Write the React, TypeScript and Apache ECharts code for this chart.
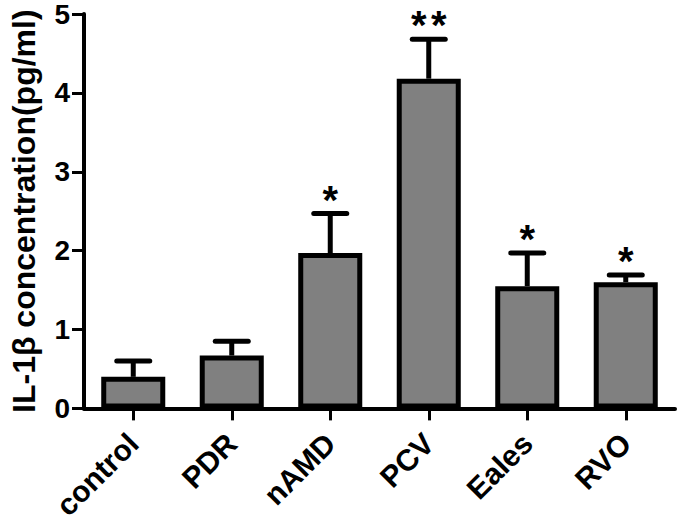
import React, { useEffect, useRef } from "react";
import * as echarts from "echarts";

const categories = ["control", "PDR", "nAMD", "PCV", "Eales", "RVO"];
const means = [0.4, 0.67, 1.97, 4.18, 1.55, 1.6];
const errors = [0.2, 0.18, 0.5, 0.5, 0.42, 0.09];
const marks = [0, 0, 1, 2, 1, 1];
const yTicks = [0, 1, 2, 3, 4, 5];

export default function App() {
  const ref = useRef<HTMLDivElement>(null);
  useEffect(() => {
    const chart = echarts.init(ref.current!, undefined, { renderer: "svg" });
    const font = "'Liberation Sans', Arial, sans-serif";
    chart.setOption({
      animation: false,
      backgroundColor: "#ffffff",
      grid: { left: 78, right: 3, top: 11, bottom: 112, containLabel: false },
      xAxis: {
        type: "category",
        data: categories,
        boundaryGap: true,
        axisLine: { lineStyle: { color: "#000", width: 4 } },
        axisTick: { show: true, length: 12, alignWithLabel: true, lineStyle: { color: "#000", width: 3 } },
        axisLabel: {
          rotate: 45,
          color: "#000",
          fontFamily: font,
          fontWeight: "bold",
          fontSize: 30,
          margin: 30,
        },
      },
      yAxis: {
        type: "value",
        min: yTicks[0],
        max: yTicks[yTicks.length - 1],
        interval: 1,
        name: "IL-1β concentration(pg/ml)",
        nameLocation: "middle",
        nameGap: 44,
        nameTextStyle: { color: "#000", fontFamily: font, fontWeight: "bold", fontSize: 32 },
        splitLine: { show: false },
        axisLine: { show: true, lineStyle: { color: "#000", width: 4 } },
        axisTick: { show: true, length: 12, lineStyle: { color: "#000", width: 3 } },
        axisLabel: { color: "#000", fontFamily: font, fontWeight: "bold", fontSize: 28, margin: 14 },
      },
      series: [
        {
          type: "bar",
          data: means,
          barWidth: "65%",
          itemStyle: { color: "#808080", borderColor: "#000", borderWidth: 5 },
          z: 2,
        },
        {
          type: "custom",
          z: 3,
          data: means.map((m, i) => [i, m, errors[i]]),
          renderItem: (params: any, api: any) => {
            const i = api.value(0);
            const m = api.value(1);
            const e = api.value(2);
            const p0 = api.coord([i, m]);
            const p1 = api.coord([i, m + e]);
            const half = 16.5;
            const children: any[] = [
              {
                type: "line",
                shape: { x1: p0[0], y1: p0[1], x2: p1[0], y2: p1[1] },
                style: { stroke: "#000", lineWidth: 5 },
              },
              {
                type: "line",
                shape: { x1: p1[0] - half, y1: p1[1], x2: p1[0] + half, y2: p1[1] },
                style: { stroke: "#000", lineWidth: 5, lineCap: "round" },
              },
            ];
            const n = marks[params.dataIndex];
            for (let k = 0; k < n; k++) {
              const off = n === 1 ? 0 : (k === 0 ? -10 : 10);
              children.push({
                type: "text",
                x: p1[0] + off,
                y: p1[1] - 14,
                style: {
                  text: "*",
                  fill: "#000",
                  font: "bold 40px 'Liberation Sans', Arial, sans-serif",
                  align: "center",
                  verticalAlign: "middle",
                },
              });
            }
            return { type: "group", children };
          },
        },
      ],
    });
    return () => chart.dispose();
  }, []);
  return <div ref={ref} style={{ width: 678, height: 523, position: "absolute", left: 0, top: 0 }} />;
}
